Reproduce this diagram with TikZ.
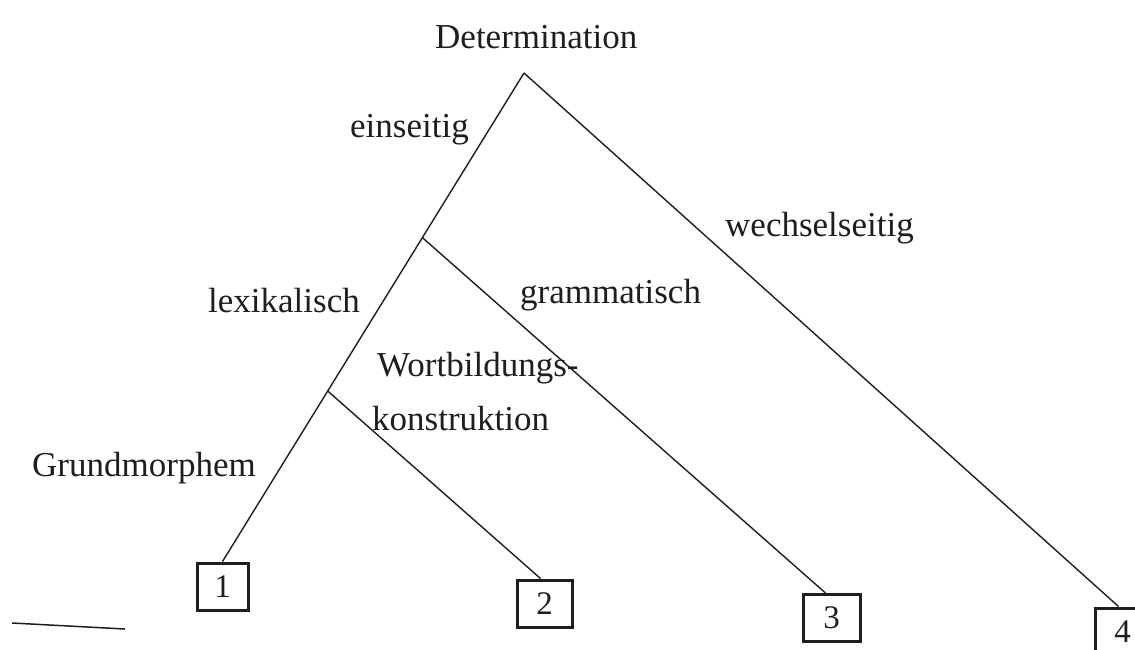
\documentclass[tikz,border=0pt]{standalone}
\usepackage{fontspec}
\setmainfont{Liberation Serif}
\usetikzlibrary{calc}
\definecolor{ink}{HTML}{1E1E1E}
\tikzset{
  lbl/.style={anchor=base west, inner sep=0pt, text=ink, font=\fontsize{35}{42}\selectfont},
  numbox/.style={draw=ink, line width=3pt, minimum width=51pt, minimum height=47pt, inner sep=0pt, text=ink, font=\fontsize{33}{40}\selectfont},
  branch/.style={draw=ink, line width=1.4pt}
}
\begin{document}
\begin{tikzpicture}[x=1pt,y=-1pt]
\useasboundingbox (0,0) rectangle (1135,649);
\fill[white] (0,0) rectangle (1135,649);
\clip (0,0) rectangle (1135,649);
% boxes
\node[numbox] (b1) at (222.5,586.5) {1};
\node[numbox, minimum width=55pt] (b2) at (544.5,603.5) {2};
\node[numbox, minimum width=57pt] (b3) at (831.5,618) {3};
\node[numbox, minimum width=55pt] (b4) at (1122.5,631.5) {4};
% tree
\coordinate (apex) at (524,73);
\coordinate (p1) at ($(apex)!0.337!(b1.north)$);
\coordinate (p2) at ($(apex)!0.651!(b1.north)$);
\draw[branch] (apex) -- (b1.north);
\draw[branch] (apex) -- ($(b4.north)+(-4,0)$);
\draw[branch] (p1) -- ($(b3.north)+(-6,0)$);
\draw[branch] (p2) -- ($(b2.north)+(-4,0)$);
% labels
\node[lbl] (det) at (435,48) {Determination};
\node[lbl] (ein) at (350,137) {einseitig};
\node[lbl] (wech) at (725,236) {wechselseitig};
\node[lbl] (lex) at (208,312) {lexikalisch};
\node[lbl] (gram) at (520,303) {grammatisch};
\node[lbl] (wort) at (377,376) {Wortbildungs-};
\node[lbl] (kons) at (372,430) {konstruktion};
\node[lbl] (grund) at (32,476) {Grundmorphem};
% stray rule bottom left
\coordinate (r1) at (12,623);
\coordinate (r2) at (125,629);
\draw[draw=ink, line width=1.5pt] (r1) -- (r2);
\end{tikzpicture}
\end{document}
